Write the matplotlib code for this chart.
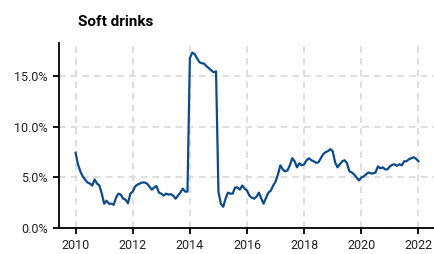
import matplotlib.pyplot as plt
from matplotlib.ticker import PercentFormatter
import numpy as np

plt.rcParams['font.family'] = ['Roboto', 'DejaVu Sans']

# monthly values (%), Jan 2010 .. Jan 2022
v2010 = [7.45, 6.3, 5.6, 5.1, 4.8, 4.5, 4.4, 4.2, 4.8, 4.4, 4.2, 3.4]
v2011 = [2.4, 2.7, 2.4, 2.4, 2.3, 3.0, 3.4, 3.3, 2.9, 2.8, 2.45, 3.4]
v2012 = [3.6, 4.1, 4.3, 4.4, 4.5, 4.5, 4.4, 4.1, 3.8, 4.0, 4.15, 3.5]
v2013 = [3.4, 3.2, 3.4, 3.3, 3.35, 3.2, 2.9, 3.2, 3.5, 3.9, 3.6, 3.6]
v2014 = [16.8, 17.35, 17.2, 16.8, 16.4, 16.3, 16.25, 16.0, 15.8, 15.6, 15.4, 15.5]
v2015 = [3.6, 2.4, 2.1, 2.9, 3.5, 3.4, 3.4, 4.0, 4.0, 3.8, 4.2, 3.9]
v2016 = [3.7, 3.2, 3.0, 2.9, 3.1, 3.5, 2.9, 2.4, 3.0, 3.5, 3.7, 4.2]
v2017 = [4.6, 5.3, 6.2, 5.8, 5.6, 5.7, 6.2, 6.9, 6.6, 6.0, 6.4, 6.2]
v2018 = [6.3, 6.7, 6.9, 6.7, 6.6, 6.45, 6.5, 6.9, 7.3, 7.5, 7.6, 7.8]
v2019 = [7.6, 6.5, 6.0, 6.3, 6.6, 6.7, 6.4, 5.6, 5.5, 5.3, 5.0, 4.7]
v2020 = [5.0, 5.1, 5.3, 5.5, 5.4, 5.4, 5.5, 6.1, 5.9, 6.0, 5.8, 5.8]
v2021 = [6.1, 6.25, 6.3, 6.15, 6.3, 6.2, 6.6, 6.6, 6.8, 6.9, 7.0, 6.85]
v2022 = [6.6]

valores = (v2010 + v2011 + v2012 + v2013 + v2014 + v2015 + v2016
           + v2017 + v2018 + v2019 + v2020 + v2021 + v2022)
anios = 2010 + np.arange(len(valores)) / 12
ticks_x = [2010, 2012, 2014, 2016, 2018, 2020, 2022]
ticks_y = [0, 5, 10, 15]

fig = plt.figure(figsize=(4.34, 2.54), dpi=100)
ax = fig.add_axes([59/434, 26/254, 1 - 59/434, (228 - 43)/254])

ax.plot(anios, valores, color='#0d4a8c', lw=1.6, zorder=3)

ax.set_xlim(2009.42, 2022.545)
ax.set_ylim(0, 18.3)
ax.set_xticks(ticks_x)
ax.set_yticks(ticks_y)
ax.yaxis.set_major_formatter(PercentFormatter(decimals=1))

ax.grid(True, color='#d9d9d9', ls=(0, (4, 3)), lw=1.2)
ax.set_axisbelow(True)
for s in ['top', 'right']:
    ax.spines[s].set_visible(False)
for s in ['left', 'bottom']:
    ax.spines[s].set_linewidth(1.3)
ax.tick_params(axis='both', labelsize=9, length=4.5, width=1.3,
               colors='black', labelcolor='#222222')

fig.text(78/434, 1 - 26/254, 'Soft drinks', fontsize=11,
         fontweight='bold', ha='left', va='baseline')

fig.savefig('out.png', dpi=100)
